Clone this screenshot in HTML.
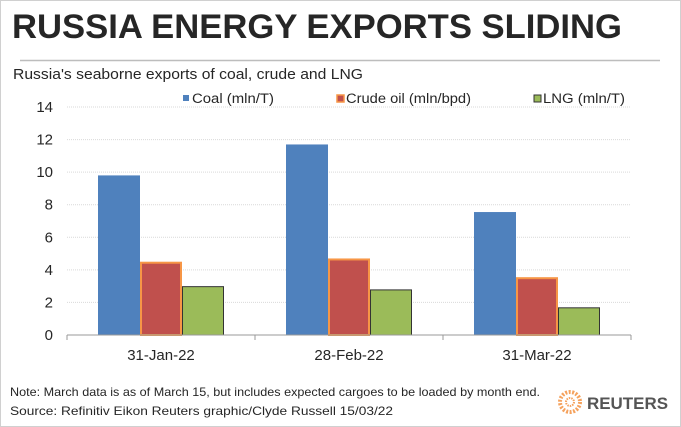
<!DOCTYPE html>
<html><head><meta charset="utf-8"><style>
body{margin:0;background:#fff}
svg{display:block;font-family:"Liberation Sans",Arial,sans-serif}
</style></head><body>
<svg width="681" height="427" viewBox="0 0 681 427">
<rect x="0.5" y="0.5" width="680" height="426" fill="#fff" stroke="#d0d0d0"/>
<text x="12" y="38" font-size="34" font-weight="bold" fill="#262626" textLength="610" lengthAdjust="spacingAndGlyphs">RUSSIA ENERGY EXPORTS SLIDING</text>
<line x1="20" y1="60.5" x2="660" y2="60.5" stroke="#bdbdbd" stroke-width="1.5"/>
<text x="13" y="79" font-size="14.5" fill="#262626" textLength="350" lengthAdjust="spacingAndGlyphs">Russia's seaborne exports of coal, crude and LNG</text>
<g id="grid"></g><g id="bars"></g><g id="axes"></g>
<g>
<rect x="183" y="95" width="6" height="6" fill="#4f81bd"/>
<text x="192" y="103" font-size="13.5" fill="#262626" textLength="82" lengthAdjust="spacingAndGlyphs">Coal (mln/T)</text>
<rect x="337" y="95" width="7" height="7" fill="#c0504d" stroke="#f79646" stroke-width="1.5"/>
<text x="346" y="103" font-size="13.5" fill="#262626" textLength="125" lengthAdjust="spacingAndGlyphs">Crude oil (mln/bpd)</text>
<rect x="534" y="95" width="7" height="7" fill="#9bbb59" stroke="#333" stroke-width="1"/>
<text x="543" y="103" font-size="13.5" fill="#262626" textLength="82" lengthAdjust="spacingAndGlyphs">LNG (mln/T)</text>
</g>
<text x="10" y="396" font-size="12" fill="#262626" textLength="530" lengthAdjust="spacingAndGlyphs">Note: March data is as of March 15, but includes expected cargoes to be loaded by month end.</text>
<text x="10" y="415" font-size="12" fill="#262626" textLength="383" lengthAdjust="spacingAndGlyphs">Source: Refinitiv Eikon    Reuters graphic/Clyde Russell 15/03/22</text>
<g>
<circle cx="570" cy="402" r="10" fill="none" stroke="#f5a25d" stroke-width="4" stroke-dasharray="2 1.5"/>
<circle cx="570" cy="402" r="4" fill="none" stroke="#f5a25d" stroke-width="2" stroke-dasharray="1.5 1"/>
<text x="587" y="409" font-size="17" font-weight="bold" fill="#555" textLength="81" lengthAdjust="spacingAndGlyphs">REUTERS</text>
</g>
</svg>
<script>
const categories=["31-Jan-22","28-Feb-22","31-Mar-22"];
const coal=[9.8,11.7,7.55];
const crude=[4.5,4.7,3.55];
const lng=[3.0,2.8,1.7];
const yTicks=[0,2,4,6,8,10,12,14];
const NS="http://www.w3.org/2000/svg";
const X0=67,X1=631,Y0=335,Y14=107;
const y=v=>Y0-(v/14)*(Y0-Y14);
const cw=(X1-X0)/categories.length;
const bw=42;
function mk(t,a,p){const e=document.createElementNS(NS,t);for(const k in a)e.setAttribute(k,a[k]);p.appendChild(e);return e;}
const grid=document.getElementById('grid'),bars=document.getElementById('bars'),axes=document.getElementById('axes');
yTicks.forEach(t=>{
 if(t>0){const l=mk('line',{x1:X0,x2:X1,y1:y(t),y2:y(t),stroke:'#d9d9d9','stroke-dasharray':'1 1'},grid);
 
 }
 const tx=mk('text',{x:53,y:y(t)+5,'font-size':15,'text-anchor':'end',fill:'#262626'},axes);
 tx.textContent=t;
 
 
});
const ax=mk('line',{x1:X0,x2:X1,y1:Y0,y2:Y0,stroke:'#999'},axes);


for(let i=0;i<=categories.length;i++){const tk=mk('line',{x1:X0+i*cw,x2:X0+i*cw,y1:Y0,y2:Y0+5,stroke:'#999'},axes);
 
 }
const series=[[coal,'#4f81bd','none',0,'coal'],[crude,'#c0504d','#f79646',2,'crude'],[lng,'#9bbb59','#333',1,'lng']];
categories.forEach((c,i)=>{
 const gx=X0+i*cw+(cw-3*bw)/2;
 series.forEach((s,j)=>{
  const v=s[0][i];
  const r=mk('rect',{x:gx+j*bw+s[3]/2,y:y(v)+s[3]/2,width:bw-s[3],height:Y0-y(v)-s[3]/2,fill:s[1],stroke:s[2],'stroke-width':s[3]},bars);
  
  
 });
 const t=mk('text',{x:X0+i*cw+cw/2,y:Y0+25,'font-size':15,'text-anchor':'middle',fill:'#262626'},axes);
 t.textContent=c;
 
 
});
</script>
</body></html>
